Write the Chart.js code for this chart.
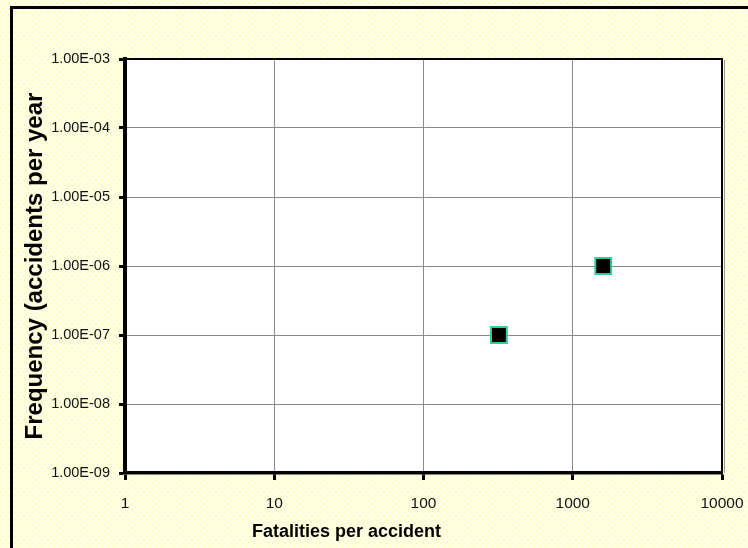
<!DOCTYPE html>
<html>
<head>
<meta charset="utf-8">
<script src="https://cdn.jsdelivr.net/npm/chart.js@4"></script>
<style>
  html, body { margin: 0; padding: 0; background: #fff; }
  #wrap { width: 748px; height: 548px; position: relative; }
</style>
</head>
<body>
<div id="wrap"><canvas id="chart" width="748" height="548"></canvas></div>
<script>
// Frequency vs fatalities (log-log)
const fatalities = [320, 1600];
const frequency = [1e-7, 1e-6];

const xTickValues = [1, 10, 100, 1000, 10000];
const xTickLabels = ['1', '10', '100', '1000', '10000'];
const yTickValues = [1e-9, 1e-8, 1e-7, 1e-6, 1e-5, 1e-4, 1e-3];
const yTickLabels = ['1.00E-09', '1.00E-08', '1.00E-07', '1.00E-06', '1.00E-05', '1.00E-04', '1.00E-03'];

const xTitle = 'Fatalities per accident';
const yTitle = 'Frequency (accidents per year';

const SANS = "'Liberation Sans', Arial, sans-serif";

// hatched pale-yellow background
function makePattern() {
    const c = document.createElement('canvas');
    c.width = 6; c.height = 6;
    const p = c.getContext('2d');
    p.fillStyle = '#fffff4';
    p.fillRect(0, 0, 6, 6);
    p.strokeStyle = '#ffffc4';
    p.lineWidth = 1.2;
    p.beginPath();
    p.moveTo(0, 0); p.lineTo(6, 6);
    p.moveTo(6, 0); p.lineTo(0, 6);
    p.stroke();
    return p.createPattern(c, 'repeat');
}

const framePlugin = {
    id: 'frame',
    beforeDraw(chart) {
        const { ctx, chartArea: a } = chart;
        ctx.save();
        ctx.fillStyle = makePattern();
        ctx.fillRect(0, 0, chart.width, chart.height);
        ctx.fillStyle = '#ffffff';
        ctx.fillRect(a.left, a.top, a.right - a.left, a.bottom - a.top);
        ctx.restore();
    },
    afterDraw(chart) {
        const { ctx, chartArea: a } = chart;
        ctx.save();
        // plot area top / right border
        ctx.strokeStyle = '#999';
        ctx.lineWidth = 1;
        ctx.beginPath();
        ctx.moveTo(a.right + 2.5, a.top + 1);
        ctx.lineTo(a.right + 2.5, a.bottom);
        ctx.stroke();
        ctx.strokeStyle = '#000';
        ctx.lineWidth = 2;
        ctx.beginPath();
        ctx.moveTo(a.left, a.top);
        ctx.lineTo(a.right, a.top);
        ctx.lineTo(a.right, a.bottom);
        ctx.stroke();
        // outer frame
        ctx.lineWidth = 3;
        ctx.strokeRect(11.5, 7.5, 800, 600);
        // x axis title
        ctx.fillStyle = '#000';
        ctx.font = 'bold 18px ' + SANS;
        ctx.textAlign = 'left';
        ctx.textBaseline = 'alphabetic';
        ctx.fillText(xTitle, 252, 537);
        ctx.restore();
    }
};

new Chart(document.getElementById('chart').getContext('2d'), {
    type: 'scatter',
    data: {
        datasets: [{
            label: 'Accidents',
            data: fatalities.map((x, i) => ({ x: x, y: frequency[i] })),
            pointStyle: 'rect',
            pointRadius: 11.2,
            pointHoverRadius: 11.2,
            backgroundColor: '#000000',
            borderColor: '#33cc99',
            borderWidth: 2
        }]
    },
    options: {
        responsive: false,
        animation: false,
        layout: { padding: { top: 59, right: 26, left: 0, bottom: 0 } },
        plugins: { legend: { display: false }, tooltip: { enabled: false } },
        scales: {
            x: {
                type: 'logarithmic',
                min: 1, max: 10000,
                afterBuildTicks: s => { s.ticks = xTickValues.map(v => ({ value: v })); },
                afterFit: s => { s.height = 75; s.paddingLeft = 0; s.paddingRight = 0; },
                grid: { color: '#8a8a8a', lineWidth: 1, tickColor: '#000', tickWidth: 3, tickLength: 7 },
                border: { color: '#000', width: 3.5 },
                ticks: {
                    autoSkip: false, maxRotation: 0, padding: 14, color: '#111',
                    font: { family: SANS, size: 15.5 },
                    callback: (v, i) => xTickLabels[i]
                },
                title: { display: false }
            },
            y: {
                type: 'logarithmic',
                min: 1e-9, max: 1e-3,
                afterBuildTicks: s => { s.ticks = yTickValues.map(v => ({ value: v })); },
                afterFit: s => { s.width = 125; s.paddingTop = 0; s.paddingBottom = 0; },
                grid: { color: '#8a8a8a', lineWidth: 1, tickColor: '#000', tickWidth: 3, tickLength: 6 },
                border: { color: '#000', width: 4 },
                ticks: {
                    autoSkip: false, padding: 9, color: '#111',
                    font: { family: SANS, size: 14.5 },
                    callback: (v, i) => yTickLabels[i]
                },
                title: {
                    display: true, text: yTitle, color: '#000',
                    font: { family: SANS, size: 24, weight: 'bold' },
                    padding: { top: 21, bottom: 0 }
                }
            }
        }
    },
    plugins: [framePlugin]
});
</script>
</body>
</html>
